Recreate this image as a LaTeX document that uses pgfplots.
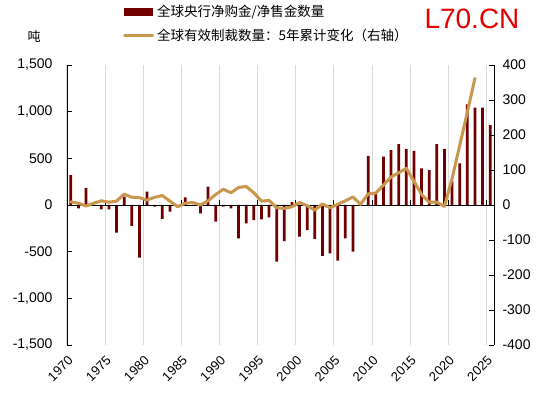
\documentclass[border=0pt]{standalone}
\usepackage{fontspec}
\setmainfont{Liberation Sans}
\newfontfamily\cjk{Noto Sans CJK SC}
\usepackage{pgfplots}
\usepackage{pgfplotstable}
\pgfplotsset{compat=1.18}
\definecolor{barc}{RGB}{112,0,0}
\definecolor{linec}{RGB}{200,150,76}
\definecolor{gridc}{RGB}{217,217,217}
\definecolor{wm}{RGB}{226,0,0}

\pgfplotstableread{
year val
1970 320
1971 -35
1972 183
1973 0
1974 -46
1975 -46
1976 -296
1977 89
1978 -223
1979 -565
1980 143
1981 -18
1982 -150
1983 -71
1984 0
1985 82
1986 0
1987 -89
1988 196
1989 -179
1990 -18
1991 -36
1992 -357
1993 -196
1994 -161
1995 -154
1996 -132
1997 -607
1998 -386
1999 30
2000 -339
2001 -268
2002 -364
2003 -546
2004 -518
2005 -596
2006 -357
2007 -500
2008 0
2009 525
2010 125
2011 518
2012 589
2013 652
2014 600
2015 579
2016 393
2017 375
2018 652
2019 600
2020 257
2021 446
2022 1079
2023 1043
2024 1043
2025 857
}\bars

\pgfplotstableread{
year val
1970 9
1971 5
1972 -3
1973 5
1974 12
1975 8
1976 11
1977 31
1978 22
1979 21
1980 14
1981 22
1982 27
1983 11
1984 -5
1985 5
1986 7
1987 0
1988 12
1989 30
1990 45
1991 35
1992 50
1993 53
1994 35
1995 11
1996 13
1997 -8
1998 -10
1999 -5
2000 7
2001 -2
2002 -15
2003 3
2004 -8
2005 2
2006 12
2007 23
2008 2
2009 32
2010 34
2011 57
2012 80
2013 92
2014 105
2015 68
2016 30
2017 8
2018 8
2019 -4
2020 75
2021 170
2022 265
2023 362
}\sanc

\begin{document}
\begin{tikzpicture}
\useasboundingbox (0,0) rectangle (550pt,395pt);
\begin{axis}[
  at={(67pt,50pt)}, anchor=south west,
  scale only axis, width=427pt, height=280pt,
  xmin=1970, xmax=2026, ymin=-1500, ymax=1500,
  axis y line*=left, axis x line*=bottom,
  x axis line style={draw=none},
  xtick={1970,1975,...,2025},
  xmajorgrids, grid style={gridc, line width=1pt},
  ytick={-1500,-1000,...,1500},
  /pgf/number format/assume math mode=true,
  yticklabel style={/pgf/number format/1000 sep={,}, font=\fontsize{14}{16}\selectfont, xshift=-11pt},
  xticklabel style={/pgf/number format/1000 sep={}, xshift=6pt, yshift=-11pt, rotate=45, anchor=east, font=\fontsize{13}{15}\selectfont},
  tick align=inside, major tick length=5pt,
  x tick style={draw=none},
  y tick style={black, line width=0.8pt},
  y axis line style={black, line width=0.8pt},
  clip=false,
]
\addplot[ybar, bar width=0.36, fill=barc, draw=none] table[x expr=\thisrow{year}+0.5, y=val] {\bars};
\end{axis}
\begin{axis}[
  at={(67pt,50pt)}, anchor=south west,
  scale only axis, width=427pt, height=280pt,
  xmin=1970, xmax=2026, ymin=-400, ymax=400,
  axis y line*=right, axis x line*=middle,
  xtick={1970,1975,...,2025}, xticklabel=\empty,
  ytick={-400,-300,...,400},
  /pgf/number format/assume math mode=true,
  yticklabel style={font=\fontsize{14}{16}\selectfont, xshift=5pt},
  tick align=inside, major tick length=5pt,
  tick style={black, line width=0.8pt},
  axis line style={black, line width=0.8pt},
  legend cell align=left,
  legend style={draw=none, fill=none, at={(0.131,1.218)}, anchor=north west,
    font=\cjk\fontsize{13.5}{15}\selectfont, row sep=9pt, inner sep=0pt,
    nodes={inner xsep=3pt, inner ysep=1pt}},
]
\addlegendimage{legend image code/.code={\fill[barc] (0pt,-3.5pt) rectangle (28pt,3.5pt);}}
\addlegendentry{全球央行净购金/净售金数量}
\addplot[linec, line width=3pt, line join=round, line cap=round, mark=none,
  legend image code/.code={\draw[linec, line width=3pt] (0pt,0pt) -- (28pt,0pt);}]
  table[x expr=\thisrow{year}+0.5, y=val] {\sanc};
\addlegendentry{全球有效制裁数量：5年累计变化（右轴）}
\end{axis}
\node[font=\cjk\fontsize{13}{15}\selectfont] at (34pt,358pt) {吨};
\node[font=\fontsize{28}{30}\selectfont, text=wm] at (472pt,376pt) {L70.CN};
\end{tikzpicture}
\end{document}
